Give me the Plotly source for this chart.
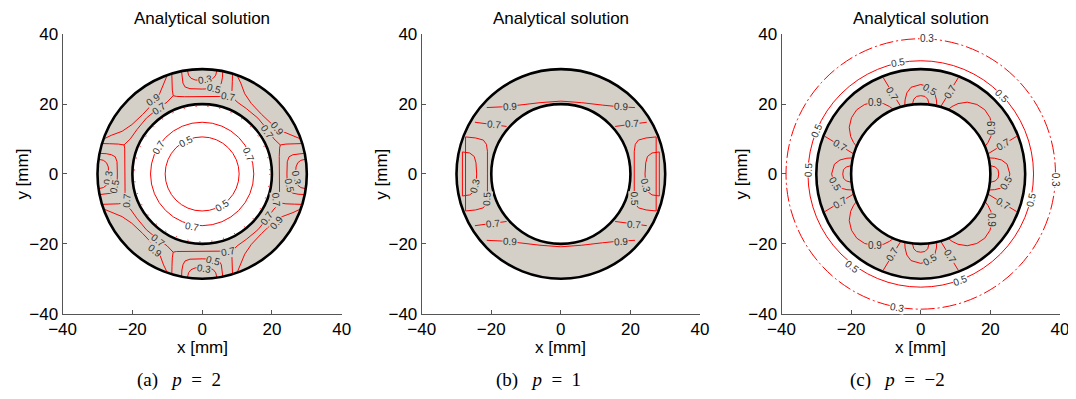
import numpy as np
import plotly.graph_objects as go

# ---------------- values (mm) ----------------
RING_R = [20.0, 30.0]                       # inner / outer radius of the ring
TICKS = [-40, -20, 0, 20, 40]
TITLES = ["Analytical solution", "Analytical solution", "Analytical solution"]
CAPTIONS = ["(a)&nbsp;&nbsp; <i>p</i>&nbsp; =&nbsp; 2",
            "(b)&nbsp;&nbsp; <i>p</i>&nbsp; =&nbsp; 1",
            "(c)&nbsp;&nbsp; <i>p</i>&nbsp; =&nbsp; \u22122"]

# ---- panel (a), p = 2 (pattern repeats every 90 deg) ----
# lobe around the +y axis, right half (x >= 0)
A_LOBE03_X = [0.0, 2.0, 3.2, 3.9, 4.2]
A_LOBE03_Y = [26.8, 26.9, 27.4, 28.3, 29.6]
A_LOBE05_X = [0.0, 3.5, 4.9, 5.5, 5.8, 5.9]
A_LOBE05_Y = [24.3, 24.4, 24.9, 26.0, 27.5, 29.3]
A_LOBE07_X = [0.0, 5.0, 7.4, 8.3, 8.55, 8.65, 8.7]
A_LOBE07_Y = [22.1, 22.1, 22.2, 22.4, 24.0, 26.5, 28.6]
# arcs around the 45 deg diagonal (angle deg, radius mm)
A_DIAG07_T = [69.7, 64, 56, 45, 34, 26, 20.3]
A_DIAG07_R = [23.9, 22.9, 22.6, 22.6, 22.6, 22.9, 23.9]
A_DIAG09_T = [70, 67, 62, 55, 45, 35, 28, 23, 20]
A_DIAG09_R = [29.7, 28.3, 26.0, 24.6, 24.1, 24.6, 26.0, 28.3, 29.7]
# circular levels inside the hole: 0.5, 0.7 and broken 0.9
A_HOLE_R = [10.6, 14.8]
A_HOLE_FRAG_R = [19.4]
A_LAB_X = [0.8, 3.4, 7.5, -14.0, -12.3, 18.5, 21.5, -27.1, -25.2, 27.1, 25.1,
           -21.7, 21.3, 18.5, 21.3, -12.6, -13.6, 7.5, 3.0, 0.5,
           -12.6, -4.7, 13.4, 5.7, -3.0]
A_LAB_Y = [26.9, 24.6, 22.1, 21.3, 18.7, 12.1, 13.0, -1.2, -3.5, -0.9, -3.2,
           -7.5, -7.5, -12.8, -13.8, -19.0, -21.9, -22.1, -24.8, -27.0,
           7.7, 9.2, 5.7, -9.0, -15.0]
A_LAB_T = ["0.3", "0.5", "0.7", "0.9", "0.7", "0.7", "0.9", "0.3", "0.5", "0.3", "0.5",
           "0.7", "0.7", "0.7", "0.9", "0.7", "0.9", "0.7", "0.5", "0.3",
           "0.7", "0.5", "0.7", "0.5", "0.7"]
A_LAB_A = [-8, 15, 10, -35, -35, 55, 50, -80, -78, 80, 78,
           -85, 85, -55, -50, 38, 38, -10, 15, 8,
           -58, -27, 67, -32, 11]

# ---- panel (b), p = 1 (mirror symmetric about both axes) ----
B09_X = [-21.3, -17.0, -12.0, -6.0, 0.0, 6.0, 12.0, 17.0, 21.3]
B09_Y = [19.0, 19.2, 19.7, 20.4, 20.85, 20.4, 19.7, 19.2, 19.0]
B07_X = [-24.7, -22.0, -19.0, -15.6]
B07_Y = [14.8, 14.5, 14.1, 13.6]
B05_X = [-27.4, -24.5, -22.3, -21.4, -21.1, -21.1]
B05_Y = [10.6, 10.3, 9.7, 8.5, 6.5, 0.0]
B03_X = [-28.3, -26.2, -24.9, -24.4, -24.2]
B03_Y = [6.3, 6.0, 5.0, 3.2, 0.0]
B_LAB_X = [-14.6, 17.4, -19.1, 20.5, -24.6, -21.2, 24.3, 21.1, -19.4, 21.0, -14.6, 17.4]
B_LAB_Y = [19.45, 19.3, 14.2, 14.4, -3.4, -7.1, -3.4, -7.1, -14.3, -14.4, -19.45, -19.3]
B_LAB_T = ["0.9", "0.9", "0.7", "0.7", "0.3", "0.5", "0.3", "0.5", "0.7", "0.7", "0.9", "0.9"]
B_LAB_A = [-4, 3, 6, -4, -75, -88, 75, 88, -6, 4, 4, -3]

# ---- panel (c), p = -2 (pattern repeats every 90 deg) ----
C_LOBE03_X = [0.0, 1.2, 2.0, 2.4]
C_LOBE03_Y = [22.4, 22.2, 21.4, 19.9]
C_LOBE05_X = [0.0, 2.8, 4.0, 4.5, 4.6]
C_LOBE05_Y = [25.6, 24.8, 23.2, 21.2, 19.5]
C_LOBE07_X = [5.7, 8.2, 10.8]
C_LOBE07_Y = [19.2, 23.3, 27.6]
C_DIAG09_T = [67, 65, 62, 57, 51, 45, 39, 33, 28, 25, 23]
C_DIAG09_R = [20.0, 21.3, 22.8, 24.5, 25.6, 26.0, 25.6, 24.5, 22.8, 21.3, 20.0]
C_OUT05_R = [32.4]
C_OUT03_R = [38.7]
C_LAB_X = [1.7, 38.7, -6.9, -6.4, -29.8, -32.4, 23.2, 31.6, -19.8, 11.3,
           2.6, 24.6, 2.7, -24.7,
           -8.3, 8.5, 23.6, -23.1, -23.1, 23.6, -8.3, 8.5,
           -13.2, 20.5, -13.2, 20.5]
C_LAB_Y = [38.66, -1.8, -38.1, 31.8, 12.3, 1.1, 22.5, -7.5, -26.5, -30.4,
           24.3, -2.5, -24.6, -2.8,
           23.0, 23.6, 8.5, 8.2, -8.2, -8.5, -23.0, -23.6,
           20.5, 13.2, -20.5, -13.2]
C_LAB_T = ["0.3", "0.3", "0.3", "0.5", "0.5", "0.5", "0.5", "0.5", "0.5", "0.5",
           "0.5", "0.5", "0.5", "0.5",
           "0.7", "0.7", "0.7", "0.7", "0.7", "0.7", "0.7", "0.7",
           "0.9", "0.9", "0.9", "0.9"]
C_LAB_A = [0, 90, 10, -10, -66, -88, 46, -77, 37, -20,
           30, -60, -30, 59,
           59, -59, -31, 31, -31, 31, -59, 59,
           0, -90, 0, 90]

# ---------------- styling ----------------
SHELL = "#d4d0c8"
RED = "#ff0000"
FONT = "Liberation Sans, Arial, sans-serif"
PAGE_OFF = 8                       # default body margin of the page
W, H = 1076 - PAGE_OFF, 399 - 2 * PAGE_OFF   # fits the window without scrollbars
XPIX = [(62.6, 341.7), (421.7, 700.0), (781.5, 1060.0)]   # window pixels
YPIX = (34.2, 313.7)
CAP_X = [179, 538, 897.5]


def fx_(px):
    return (px - PAGE_OFF) / W


def fy_(py):
    return 1 - (py - PAGE_OFF) / H


def rot4(xs, ys):
    xs, ys = np.asarray(xs, float), np.asarray(ys, float)
    return [(xs, ys), (-ys, xs), (-xs, -ys), (ys, -xs)]


def full_lobe(xs, ys):
    xs, ys = np.asarray(xs, float), np.asarray(ys, float)
    return np.concatenate([-xs[::-1], xs]), np.concatenate([ys[::-1], ys])


def polar(t, r):
    t = np.radians(np.asarray(t, float))
    r = np.asarray(r, float)
    return r * np.cos(t), r * np.sin(t)


def mirror4(xs, ys):
    xs, ys = np.asarray(xs, float), np.asarray(ys, float)
    return [(xs, ys), (-xs, ys), (xs, -ys), (-xs, -ys)]


fig = go.Figure()
shapes = []
annotations = []


def add_line(i, xs, ys, dash="solid"):
    fig.add_trace(go.Scatter(x=xs, y=ys, mode="lines", xaxis=f"x{i}", yaxis=f"y{i}",
                             line=dict(color=RED, width=1, dash=dash),
                             hoverinfo="skip", showlegend=False))


def add_circle(i, r, color, width, dash="solid", fill=None, layer="above"):
    shapes.append(dict(type="circle", xref=f"x{i}", yref=f"y{i}", x0=-r, y0=-r, x1=r, y1=r,
                       line=dict(color=color, width=width, dash=dash),
                       fillcolor=fill if fill else "rgba(0,0,0,0)", layer=layer))


def add_labels(i, X, Y, T, A):
    for x, y, t, a in zip(X, Y, T, A):
        r = np.hypot(x, y)
        bg = SHELL if RING_R[0] < r < RING_R[1] else "white"
        annotations.append(dict(x=x, y=y, xref=f"x{i}", yref=f"y{i}", text=t, textangle=a,
                                showarrow=False, bgcolor=bg, borderpad=0,
                                xanchor="center", yanchor="middle",
                                font=dict(family=FONT, size=10, color="#303030")))


# ring fills for all panels
for i in (1, 2, 3):
    shapes.append(dict(type="circle", xref=f"x{i}", yref=f"y{i}", x0=-RING_R[1], y0=-RING_R[1],
                       x1=RING_R[1], y1=RING_R[1], fillcolor=SHELL, line=dict(width=0), layer="below"))
    shapes.append(dict(type="circle", xref=f"x{i}", yref=f"y{i}", x0=-RING_R[0], y0=-RING_R[0],
                       x1=RING_R[0], y1=RING_R[0], fillcolor="white", line=dict(width=0), layer="below"))

# ---- panel (a)
for hx, hy in [(A_LOBE03_X, A_LOBE03_Y), (A_LOBE05_X, A_LOBE05_Y), (A_LOBE07_X, A_LOBE07_Y)]:
    fx, fy = full_lobe(hx, hy)
    for xs, ys in rot4(fx, fy):
        add_line(1, xs, ys)
for t, r in [(A_DIAG07_T, A_DIAG07_R), (A_DIAG09_T, A_DIAG09_R)]:
    px, py = polar(t, r)
    for xs, ys in rot4(px, py):
        add_line(1, xs, ys)
for r in A_HOLE_R:
    add_circle(1, r, RED, 1)
for r in A_HOLE_FRAG_R:
    add_circle(1, r, RED, 1, dash="1px,11px")
add_labels(1, A_LAB_X, A_LAB_Y, A_LAB_T, A_LAB_A)

# ---- panel (b)
add_line(2, B09_X, B09_Y)
add_line(2, B09_X, [-v for v in B09_Y])
for xs, ys in mirror4(B07_X, B07_Y):
    add_line(2, xs, ys)
for hx, hy in [(B05_X, B05_Y), (B03_X, B03_Y)]:
    fy, fx = full_lobe(hy, hx)
    add_line(2, fx, fy)
    add_line(2, -fx, fy)
add_labels(2, B_LAB_X, B_LAB_Y, B_LAB_T, B_LAB_A)

# ---- panel (c)
for hx, hy in [(C_LOBE03_X, C_LOBE03_Y), (C_LOBE05_X, C_LOBE05_Y)]:
    fx, fy = full_lobe(hx, hy)
    for xs, ys in rot4(fx, fy):
        add_line(3, xs, ys)
for xs0, ys0 in [(C_LOBE07_X, C_LOBE07_Y), ([-v for v in C_LOBE07_X], C_LOBE07_Y)]:
    for xs, ys in rot4(xs0, ys0):
        add_line(3, xs, ys)
px, py = polar(C_DIAG09_T, C_DIAG09_R)
for xs, ys in rot4(px, py):
    add_line(3, xs, ys)
for r in C_OUT05_R:
    add_circle(3, r, RED, 1)
for r in C_OUT03_R:
    add_circle(3, r, RED, 1, dash="14px,3px,2px,3px")
add_labels(3, C_LAB_X, C_LAB_Y, C_LAB_T, C_LAB_A)

# ring outlines on top
for i in (1, 2, 3):
    for r in RING_R:
        add_circle(i, r, "black", 2.6)

# ---- axes
layout = dict(width=W, height=H, margin=dict(l=0, r=0, t=0, b=0, autoexpand=False),
              paper_bgcolor="white", plot_bgcolor="white", showlegend=False)
ydom = [fy_(YPIX[1]), fy_(YPIX[0])]
axis_common = dict(range=[-40, 40], tickvals=TICKS, ticks="inside", ticklen=4, tickwidth=1,
                   tickcolor="#555555", showline=True, linecolor="#555555", linewidth=1,
                   showgrid=False, zeroline=False, mirror=False, automargin=False,
                   ticklabeloverflow="allow",
                   tickfont=dict(family=FONT, size=17, color="black"), fixedrange=True)
for k, (x0, x1) in enumerate(XPIX, start=1):
    sfx = "" if k == 1 else str(k)
    layout[f"xaxis{sfx}"] = dict(domain=[fx_(x0), fx_(x1)], anchor=f"y{sfx}", **axis_common)
    layout[f"yaxis{sfx}"] = dict(domain=ydom, anchor=f"x{sfx}", **axis_common)
    cx = fx_((x0 + x1) / 2)
    annotations.append(dict(x=cx, y=fy_(18.5), xref="paper", yref="paper", text=TITLES[k - 1],
                            showarrow=False, xanchor="center", yanchor="middle",
                            font=dict(family=FONT, size=17, color="black")))
    annotations.append(dict(x=cx, y=fy_(347), xref="paper", yref="paper", text="x [mm]",
                            showarrow=False, xanchor="center", yanchor="middle",
                            font=dict(family=FONT, size=17, color="black")))
    annotations.append(dict(x=fx_(x0 - 40), y=fy_(174), xref="paper", yref="paper",
                            text="y [mm]", textangle=-90, showarrow=False,
                            xanchor="center", yanchor="middle",
                            font=dict(family=FONT, size=17, color="black")))
    annotations.append(dict(x=fx_(CAP_X[k - 1]), y=fy_(380), xref="paper", yref="paper",
                            text=CAPTIONS[k - 1], showarrow=False,
                            xanchor="center", yanchor="middle",
                            font=dict(family="Liberation Serif, DejaVu Serif, serif", size=19,
                                      color="black")))

layout["shapes"] = shapes
layout["annotations"] = annotations
fig.update_layout(**layout)
fig.write_html("out.html")
